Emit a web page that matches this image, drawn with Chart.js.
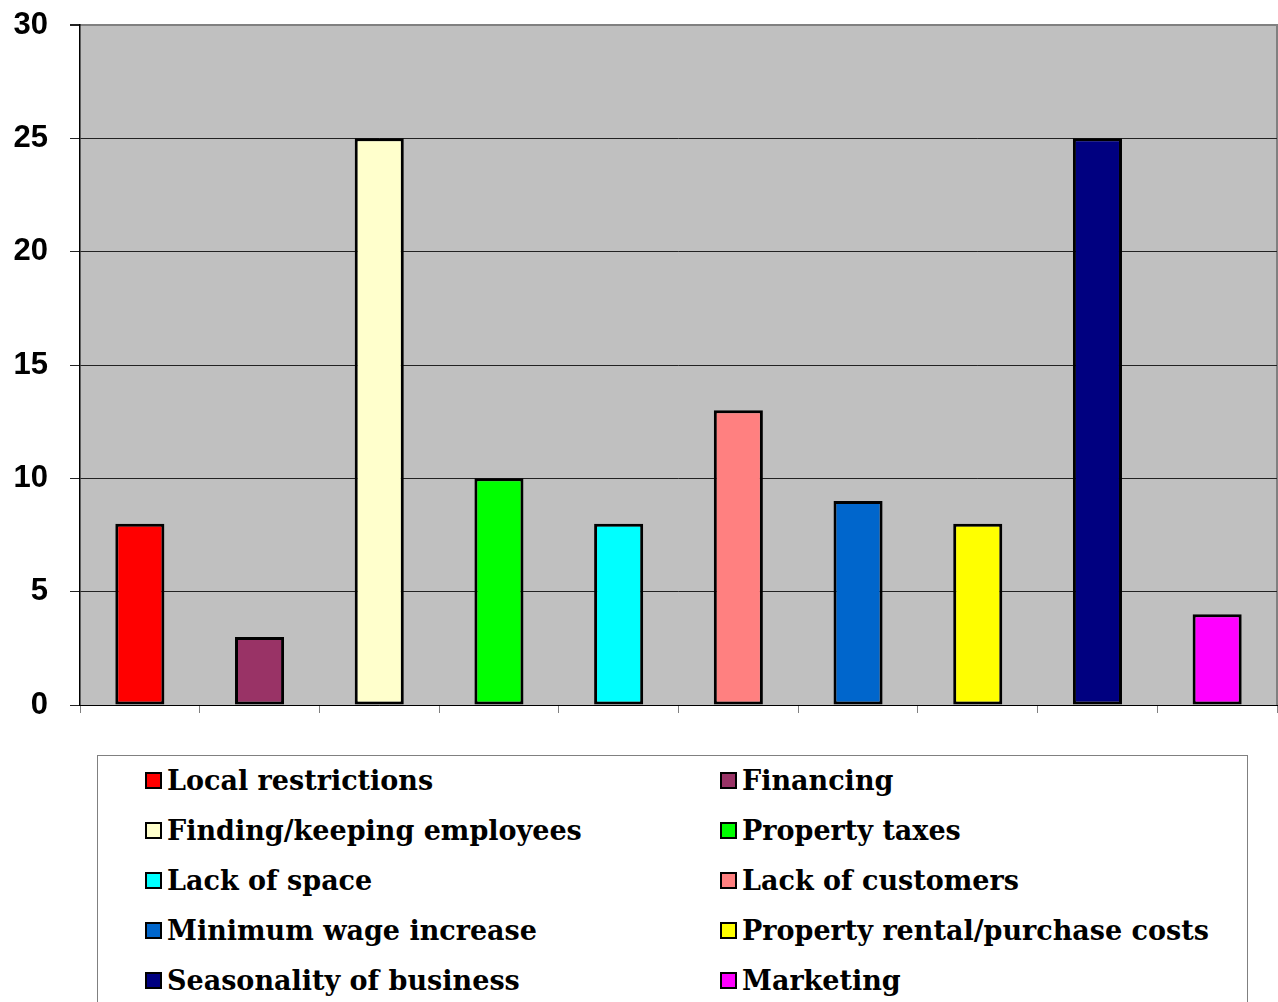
<!DOCTYPE html>
<html>
<head>
<meta charset="utf-8">
<script src="https://cdn.jsdelivr.net/npm/chart.js@4"></script>
<style>
  body { margin: 0; background: #fff; }
  #wrap { position: relative; width: 1278px; height: 1002px; overflow: hidden; }
  #chart { position: absolute; left: 0; top: 0; }
  #legend {
    position: absolute; left: 97px; top: 755px; width: 1151px; height: 300px;
    border: 1px solid #808080; box-sizing: border-box;
    font-family: 'DejaVu Serif', serif; font-weight: bold; font-size: 27px; color: #000;
  }
  .item { position: absolute; height: 50px; display: flex; align-items: center; white-space: nowrap; }
  .swatch { width: 13px; height: 13px; border: 2px solid #000; margin-right: 5px; }
</style>
</head>
<body>
<div id="wrap">
  <canvas id="chart" width="1278" height="740"></canvas>
  <div id="legend"></div>
</div>
<script>
const categories = [
  'Local restrictions',
  'Financing',
  'Finding/keeping employees',
  'Property taxes',
  'Lack of space',
  'Lack of customers',
  'Minimum wage increase',
  'Property rental/purchase costs',
  'Seasonality of business',
  'Marketing',
];
const counts = [8, 3, 25, 10, 8, 13, 9, 8, 25, 4];
const barColors = [
  '#FF0000', '#993366', '#FFFFCC', '#00FF00', '#00FFFF',
  '#FF8080', '#0066CC', '#FFFF00', '#000080', '#FF00FF',
];
const yTicks = [0, 5, 10, 15, 20, 25, 30];

// grey plot background with a thin frame on the top and right
const plotBackground = {
  id: 'plotBackground',
  beforeDraw(chart) {
    const { ctx, chartArea: a } = chart;
    ctx.save();
    ctx.fillStyle = '#C0C0C0';
    ctx.fillRect(a.left, a.top, a.right - a.left, a.bottom - a.top);
    ctx.strokeStyle = '#808080';
    ctx.lineWidth = 2;
    ctx.beginPath();
    ctx.moveTo(a.left, a.top);
    ctx.lineTo(a.right, a.top);
    ctx.lineTo(a.right, a.bottom);
    ctx.stroke();
    ctx.restore();
  },
};

const chart = new Chart(document.getElementById('chart'), {
  type: 'bar',
  data: {
    labels: categories,
    datasets: [
      {
        data: counts,
        backgroundColor: barColors,
        borderColor: '#000',
        borderWidth: 3,
        borderSkipped: false,
        barPercentage: 0.41,
        categoryPercentage: 1,
      },
    ],
  },
  options: {
    responsive: false,
    animation: false,
    layout: { padding: { top: 25, right: 1, bottom: 0, left: 0 } },
    plugins: { legend: { display: false }, tooltip: { enabled: false } },
    scales: {
      x: {
        offset: true,
        grid: {
          offset: true,
          drawOnChartArea: false,
          tickLength: 8,
          tickColor: '#808080',
        },
        border: { color: '#000', width: 1 },
        ticks: { callback: () => '' },
        afterFit: (s) => { s.height = 35; },
      },
      y: {
        min: yTicks[0],
        max: yTicks[yTicks.length - 1],
        afterBuildTicks: (s) => { s.ticks = yTicks.map((v) => ({ value: v })); },
        grid: {
          color: (c) => (c.tick && c.tick.value === 30 ? '#808080' : '#222'),
          lineWidth: (c) => (c.tick && c.tick.value === 30 ? 2 : 1),
          tickLength: 10,
          tickColor: '#222',
        },
        border: { color: '#000', width: 1.5 },
        ticks: {
          padding: 22,
          color: '#000',
          font: { family: 'Liberation Sans', weight: 'bold', size: 31 },
        },
        // fixed axis width; label overhang should not shrink the plot
        afterFit: (s) => {
          s.width = 80;
          s.paddingTop = 0;
          s.paddingBottom = 0;
        },
      },
    },
  },
  plugins: [plotBackground],
});

// two-column legend built from the same categories and colours
const legend = document.getElementById('legend');
categories.forEach((name, i) => {
  const item = document.createElement('div');
  item.className = 'item';
  item.style.left = (i % 2 === 0 ? 47 : 622) + 'px';
  item.style.top = (Math.floor(i / 2) * 50 - 1) + 'px';
  const sw = document.createElement('span');
  sw.className = 'swatch';
  sw.style.background = chart.data.datasets[0].backgroundColor[i];
  const txt = document.createElement('span');
  txt.textContent = name;
  item.appendChild(sw);
  item.appendChild(txt);
  legend.appendChild(item);
});
</script>
</body>
</html>
